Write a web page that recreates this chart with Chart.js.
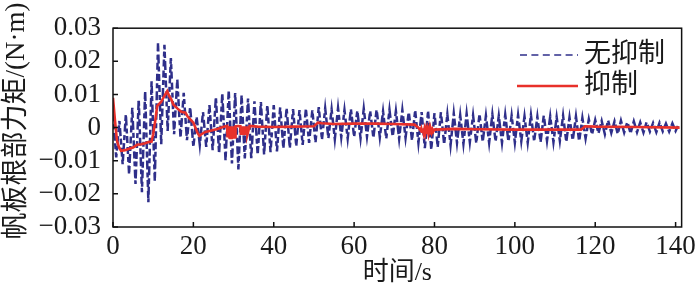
<!DOCTYPE html>
<html>
<head>
<meta charset="utf-8">
<script src="https://cdn.jsdelivr.net/npm/chart.js@4.4.1/dist/chart.umd.min.js"></script>
<style>
  html, body { margin: 0; padding: 0; background: #fff; }
  #wrap { width: 700px; height: 291px; }
</style>
</head>
<body>
<div id="wrap"><canvas id="torqueChart" width="700" height="291"></canvas></div>
<script>
// series names and axis ticks
const seriesNames = ['无抑制', '抑制'];
const xTickValues = [0, 20, 40, 60, 80, 100, 120, 140];
const yTickValues = [-0.03, -0.02, -0.01, 0, 0.01, 0.02, 0.03];

// unsuppressed torque, one sample every 0.8 s (peaks and troughs)
const sampleStep = 0.8;
const noSuppressValues = [
  0.004, -0.009, 0.002, -0.011, 0.004, -0.014, 0.006, -0.017, 0.0085, -0.0195,   // 0 - 7.2
  0.011, -0.0225, 0.014, -0.016, 0.0255, -0.005, 0.025, -0.001, 0.021, -0.002,    // 8 - 15.2
  0.0145, -0.003, 0.0105, -0.0038, 0.0062, -0.0058, 0.0033, -0.0052, 0.0047, -0.0058, // 16 - 23.2
  0.0068, -0.0068, 0.0092, -0.0078, 0.0103, -0.0098, 0.0112, -0.0108, 0.0104, -0.0126, // 24 - 31.2
  0.0097, -0.0093, 0.0088, -0.0092, 0.0079, -0.0083, 0.0077, -0.0081, 0.0069, -0.0074, // 32 - 39.2
  0.0068, -0.0072, 0.0061, -0.0063, 0.0059, -0.0062, 0.0056, -0.0055, 0.0053, -0.0052, // 40 - 47.2
  0.0057, -0.0046, 0.0052, -0.0044, 0.0062, -0.0036, 0.0058, -0.0032, 0.0055, -0.0035, // 48 - 55.2
  0.0059, -0.0029, 0.0053, -0.0033, 0.0056, -0.0028, 0.0051, -0.0032, 0.0057, -0.0027, // 56 - 63.2
  0.0050, -0.0031, 0.0055, -0.0029, 0.0049, -0.0033, 0.0054, -0.0028, 0.0050, -0.0034, // 64 - 71.2
  0.0053, -0.0031, 0.0048, -0.0038, 0.0052, -0.0046, 0.0047, -0.0062, 0.0050, -0.0066, // 72 - 79.2
  0.0044, -0.0058, 0.0047, -0.0050, 0.0040, -0.0053, 0.0043, -0.0046, 0.0038, -0.0049, // 80 - 87.2
  0.0042, -0.0044, 0.0037, -0.0047, 0.0041, -0.0043, 0.0036, -0.0046, 0.0040, -0.0042, // 88 - 95.2
  0.0035, -0.0046, 0.0039, -0.0042, 0.0036, -0.0045, 0.0038, -0.0041, 0.0034, -0.0045, // 96 - 103.2
  0.0038, -0.0041, 0.0033, -0.0044, 0.0037, -0.0040, 0.0034, -0.0044, 0.0032, -0.0040, // 104 - 111.2
  0.0036, -0.0043, 0.0031, -0.0039, 0.0034, -0.0042, 0.0029, -0.0033, 0.0025, -0.0021, // 112 - 119.2
  0.0023, -0.0017, 0.0020, -0.0020, 0.0022, -0.0016, 0.0019, -0.0019, 0.0021, -0.0015, // 120 - 127.2
  0.0017, -0.0017, 0.0019, -0.0014, 0.0016, -0.0015, 0.0017, -0.0012, 0.0014, -0.0014, // 128 - 135.2
  0.0015, -0.0011, 0.0012, -0.0012, 0.0013, -0.0010, 0.0011                           // 136 - 140.8
];

// suppressed torque
const suppressTimes = [
  0, 0.5, 1, 1.5, 2, 3, 4, 5, 6, 7, 8, 9, 9.6, 10, 10.5, 11, 12, 13, 13.5, 14, 14.5, 15, 16, 17, 18, 18.5, 19, 20, 21, 21.5,
  22, 23, 24, 25, 26, 27, 28, 28.4,
  28.5, 28.62, 28.74, 28.86, 28.98, 29.1, 29.22, 29.34, 29.46, 29.58, 29.7, 29.82, 29.94, 30.06, 30.18, 30.3, 30.42, 30.5, 31,
  31.7, 31.8, 31.92, 32.04, 32.16, 32.28, 32.4, 32.52, 32.64, 32.76, 32.88, 33.0, 33.12, 33.24, 33.36, 33.45, 34,
  36, 40, 45, 50, 51, 52, 55, 60, 65, 70, 75, 76,
  76.5, 76.7, 76.9, 77.1, 77.3, 77.5, 77.7, 77.9, 78.1, 78.3, 78.5, 78.7, 78.9, 79.1, 79.3, 79.5, 79.7, 80,
  85, 90, 100, 110, 116.5, 117.5, 120, 130, 141
];
const suppressValues = [
  0.009, 0.002, -0.004, -0.006, -0.007, -0.0068, -0.0064, -0.006, -0.0052, -0.005, -0.0047, -0.0043, -0.0042, -0.002, 0.002,
  0.0065, 0.0078, 0.010, 0.011, 0.0095, 0.0085, 0.007, 0.0058, 0.0048, 0.0045, 0.0035, 0.0028, 0.0015, -0.0015, -0.0025,
  -0.002, -0.0013, -0.001, -0.0007, -0.0004, 0, 0.0004, 0.0005,
  -0.003, 0.0004, -0.003, 0.0004, -0.003, 0.0004, -0.0031, 0.0004, -0.0031, 0.0004, -0.003, 0.0004, -0.003, 0.0004, -0.003, 0.0004, -0.0029, 0.0004, 0.0005,
  0.0004, -0.0022, 0.0004, -0.0022, 0.0004, -0.0022, 0.0004, -0.0023, 0.0004, -0.0022, 0.0004, -0.0022, 0.0004, -0.0022, 0.0004, -0.0021, 0.0005,
  0.0003, 0.0002, 0.0003, 0.0004, 0.0015, 0.0013, 0.0011, 0.0012, 0.0012, 0.0011, 0.0009, 0,
  -0.0008, -0.0002, -0.0012, -0.0003, -0.0016, -0.0004, -0.0018, -0.0005, -0.0019, -0.0005, -0.0019, -0.0006, -0.0018, -0.0006, -0.0015, -0.0006, -0.0012, -0.0006,
  -0.0004, -0.0005, -0.0006, -0.0006, -0.0006, 0.0004, 0.0003, 0.0002, 0
];

const serif = '"Liberation Serif", "Times New Roman", "Noto Sans CJK SC", serif';
const blue = '#2f2f8a';
const red = '#e8302a';
const ink = '#1a1a1a';

// frame, inward ticks, rotated y title and the legend inside the plot
const decorations = {
  id: 'decorations',
  afterDraw(chart) {
    const ctx = chart.ctx;
    const a = chart.chartArea;
    const xs = chart.scales.x, ys = chart.scales.y;
    ctx.save();
    ctx.strokeStyle = '#111';
    ctx.lineWidth = 1.5;
    ctx.strokeRect(a.left, a.top, a.right - a.left, a.bottom - a.top);
    ctx.beginPath();
    xTickValues.forEach(v => {
      const px = xs.getPixelForValue(v);
      ctx.moveTo(px, a.bottom);
      ctx.lineTo(px, a.bottom - 5);
    });
    yTickValues.forEach(v => {
      const py = ys.getPixelForValue(v);
      ctx.moveTo(a.left, py);
      ctx.lineTo(a.left + 5, py);
    });
    ctx.stroke();

    ctx.fillStyle = ink;
    ctx.font = '27px ' + serif;
    ctx.textAlign = 'center';
    ctx.textBaseline = 'middle';
    ctx.translate(17, 121);
    ctx.rotate(-Math.PI / 2);
    ctx.fillText('帆板根部力矩/(N·m)', 0, 0);
    ctx.restore();

    ctx.save();
    ctx.lineWidth = 1.6;
    ctx.strokeStyle = blue;
    ctx.setLineDash([7, 4.4]);
    ctx.beginPath();
    ctx.moveTo(520, 55);
    ctx.lineTo(578, 55);
    ctx.stroke();
    ctx.setLineDash([]);
    ctx.lineWidth = 2.5;
    ctx.strokeStyle = red;
    ctx.beginPath();
    ctx.moveTo(517, 86);
    ctx.lineTo(578, 86);
    ctx.stroke();
    ctx.fillStyle = ink;
    ctx.font = '27px ' + serif;
    ctx.textAlign = 'left';
    ctx.textBaseline = 'middle';
    ctx.fillText(seriesNames[0], 584, 55);
    ctx.fillText(seriesNames[1], 584, 86);
    ctx.restore();
  }
};

document.addEventListener('DOMContentLoaded', () => {
  const ctx = document.getElementById('torqueChart').getContext('2d');
  new Chart(ctx, {
    type: 'line',
    data: {
      datasets: [{
        label: seriesNames[0],
        data: noSuppressValues.map((v, i) => ({ x: i * sampleStep, y: v })),
        borderColor: blue,
        borderWidth: 2.5,
        borderDash: [7, 3, 5, 3.5, 8, 2.5, 6, 3, 9, 3, 5, 2.5, 7, 4],
        pointRadius: 0,
        tension: 0,
        order: 2
      }, {
        label: seriesNames[1],
        data: suppressTimes.map((t, i) => ({ x: t, y: suppressValues[i] })),
        borderColor: red,
        borderWidth: 2.6,
        pointRadius: 0,
        tension: 0,
        order: 1
      }]
    },
    options: {
      responsive: false,
      devicePixelRatio: 1,
      animation: false,
      layout: { padding: { top: 25, right: 14, left: 0, bottom: 0 } },
      plugins: {
        legend: { display: false },
        tooltip: { enabled: false }
      },
      scales: {
        x: {
          type: 'linear',
          min: 0,
          max: 141.5,
          grid: { display: false, drawTicks: false },
          border: { display: false },
          afterBuildTicks: scale => { scale.ticks = xTickValues.map(v => ({ value: v })); },
          afterFit: scale => { scale.height = 64; },
          ticks: {
            color: ink,
            padding: 4,
            maxRotation: 0,
            autoSkip: false,
            font: { family: serif, size: 27 }
          },
          title: {
            display: true,
            text: '时间/s',
            color: ink,
            padding: { top: 0, bottom: 2 },
            font: { family: serif, size: 26 }
          }
        },
        y: {
          min: -0.03,
          max: 0.03,
          grid: { display: false, drawTicks: false },
          border: { display: false },
          afterBuildTicks: scale => { scale.ticks = yTickValues.map(v => ({ value: v })); },
          afterFit: scale => { scale.width = 113; },
          ticks: {
            color: ink,
            padding: 12,
            autoSkip: false,
            font: { family: serif, size: 27 },
            callback: v => Math.abs(v) < 1e-9 ? '0' : (v < 0 ? '\u2212' : '') + Math.abs(v).toFixed(2)
          }
        }
      }
    },
    plugins: [decorations]
  });
});
</script>
</body>
</html>
